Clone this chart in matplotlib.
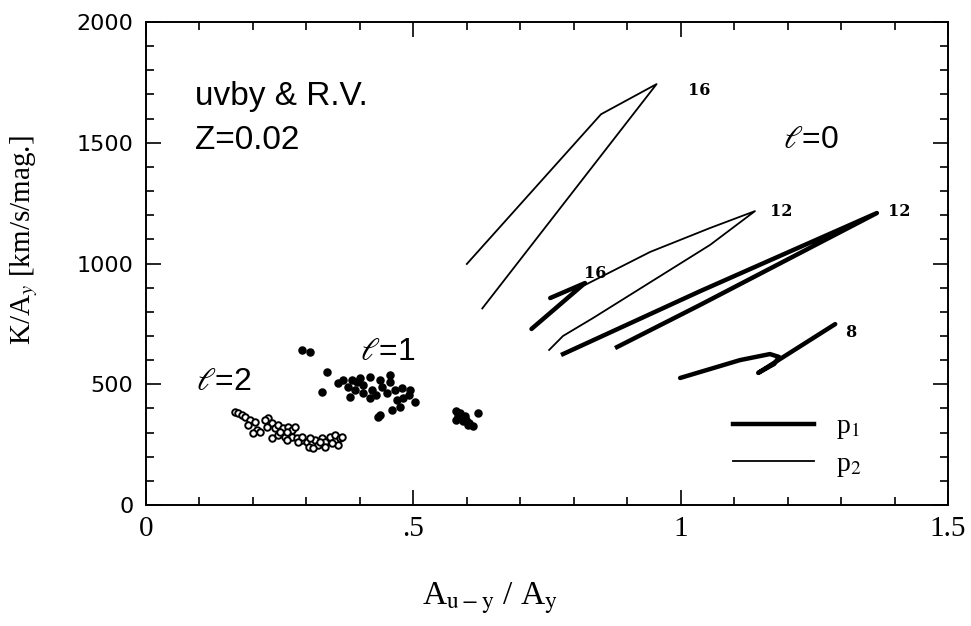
import matplotlib
matplotlib.use("Agg")
import matplotlib.pyplot as plt
from matplotlib.ticker import MultipleLocator, FixedLocator, FixedFormatter

plt.rcParams['mathtext.fontset'] = 'stix'

# ---- data ----
# l=2 open circles
l2_x = [0.166, 0.173, 0.179, 0.185, 0.195, 0.204, 0.191, 0.207, 0.201, 0.213,
        0.229, 0.235, 0.241, 0.247, 0.257, 0.266, 0.273, 0.279, 0.235, 0.247,
        0.260, 0.273, 0.282, 0.291, 0.301, 0.310, 0.316, 0.329, 0.335, 0.344,
        0.353, 0.363, 0.366, 0.360, 0.347, 0.322, 0.304, 0.313, 0.223, 0.226,
        0.251, 0.263, 0.291, 0.307, 0.263, 0.285, 0.335, 0.325]
l2_y = [386, 380, 373, 366, 352, 345, 331, 311, 297, 304,
        359, 338, 318, 331, 318, 324, 311, 324, 276, 290,
        283, 283, 276, 269, 262, 255, 269, 276, 262, 283,
        290, 276, 283, 248, 255, 248, 241, 235, 352, 324,
        304, 304, 283, 276, 269, 262, 241, 262]

# l=1 filled dots
l1_x = [0.291, 0.307, 0.338, 0.329, 0.360, 0.369, 0.378, 0.385, 0.394, 0.400,
        0.419, 0.438, 0.456, 0.456, 0.441, 0.422, 0.406, 0.382, 0.419, 0.431,
        0.450, 0.466, 0.478, 0.494, 0.503, 0.469, 0.460, 0.438, 0.434, 0.481,
        0.406, 0.391, 0.491, 0.475]
l1_y = [642, 635, 552, 469, 504, 518, 490, 518, 511, 525,
        531, 518, 538, 511, 490, 476, 462, 448, 442, 455,
        462, 476, 483, 476, 428, 435, 393, 373, 366, 442,
        497, 476, 455, 407]

# cluster near 0.6 (filled)
l0_x = [0.580, 0.587, 0.584, 0.590, 0.596, 0.599, 0.605, 0.612, 0.621, 0.593,
        0.580, 0.602]
l0_y = [388, 381, 367, 360, 367, 353, 340, 326, 381, 347, 353, 333]

# p2 (thin) model tracks
p2a_x = [0.600, 0.851, 0.955, 0.629]
p2a_y = [998, 1618, 1743, 814]
p2b_x = [0.754, 0.780, 0.836, 1.055, 1.139, 1.055, 0.943, 0.821]
p2b_y = [642, 700, 774, 1077, 1217, 1147, 1048, 911]

# p1 (thick) model tracks
p1a_x = [0.721, 0.821, 0.756]
p1a_y = [729, 919, 857]
p1b_x = [0.780, 1.036, 1.367, 1.036, 0.881]
p1b_y = [625, 885, 1209, 828, 654]
p1c_x = [0.999, 1.111, 1.167, 1.184, 1.175, 1.145, 1.289]
p1c_y = [526, 600, 625, 613, 584, 547, 749]

# mass labels
mass_text = ['16', '12', '12', '16', '8']
mass_x = [1.014, 1.167, 1.388, 0.820, 1.307]
mass_y = [1718, 1217, 1217, 960, 716]

xticks = [0, 0.5, 1, 1.5]
xtick_labels = ['0', '.5', '1', '1.5']
yticks = [0, 500, 1000, 1500, 2000]
ytick_labels = ['0', '500', '1000', '1500', '2000']

# ---- figure ----
fig = plt.figure(figsize=(9.71, 6.26), dpi=100)
ax = fig.add_axes([146/971, 1-505/626, 802/971, 483/626])

ax.plot(p2a_x, p2a_y, color='black', lw=1.3)
ln2, = ax.plot(p2b_x, p2b_y, color='black', lw=1.3, label=r'p$_2$')
ax.plot(p1a_x, p1a_y, color='black', lw=3.2, solid_capstyle='round')
ln1, = ax.plot(p1b_x, p1b_y, color='black', lw=3.2, label=r'p$_1$',
               solid_joinstyle='round')
ax.plot(p1c_x, p1c_y, color='black', lw=3.2, solid_capstyle='round',
        solid_joinstyle='round')

ax.scatter(l2_x, l2_y, s=22, facecolor='white', edgecolor='black', lw=1.4, zorder=3)
ax.scatter(l1_x, l1_y, s=26, color='black', zorder=3)
ax.scatter(l0_x, l0_y, s=26, color='black', zorder=3)

for t, x, y in zip(mass_text, mass_x, mass_y):
    ax.text(x, y, t, fontsize=11.5, fontweight='bold', family='DejaVu Serif',
            ha='left', va='center')

ax.set_xlim(0, 1.5)
ax.set_ylim(0, 2000)
ax.xaxis.set_major_locator(FixedLocator(xticks))
ax.xaxis.set_major_formatter(FixedFormatter(xtick_labels))
ax.yaxis.set_major_locator(FixedLocator(yticks))
ax.yaxis.set_major_formatter(FixedFormatter(ytick_labels))
ax.xaxis.set_minor_locator(MultipleLocator(0.1))
ax.yaxis.set_minor_locator(MultipleLocator(100))
ax.tick_params(which='both', direction='in', top=True, right=True, width=1.2)
ax.tick_params(which='major', length=11)
ax.tick_params(which='minor', length=6)
ax.tick_params(axis='x', which='major', pad=8)
ax.tick_params(axis='y', which='major', pad=9)
for lab in ax.get_xticklabels():
    lab.set_family('Liberation Serif')
    lab.set_fontsize(21)
for lab in ax.get_yticklabels():
    lab.set_family('DejaVu Sans')
    lab.set_fontsize(16)
for s in ax.spines.values():
    s.set_linewidth(1.4)

ax.set_xlabel(r'A$_{\mathrm{u-y}}$ / A$_\mathrm{y}$', fontsize=24,
              family='Liberation Serif')
ax.xaxis.set_label_coords((490-146)/802, (505-580)/483)
ax.set_ylabel(r'K/A$_y$ [km/s/mag.]', fontsize=21, family='Liberation Serif')
ax.yaxis.set_label_coords((40-146)/802, (505-240)/483)

ax.text(0.091, 1690, 'uvby & R.V.', fontsize=24, family='Liberation Sans',
        ha='left', va='center')
ax.text(0.091, 1510, 'Z=0.02', fontsize=24, family='Liberation Sans',
        ha='left', va='center')
ax.text(1.191, 1510, r'$\ell$=0', fontsize=23, family='Liberation Sans',
        ha='left', va='center')
ax.text(0.400, 634, r'$\ell$=1', fontsize=23, family='Liberation Sans',
        ha='left', va='center')
ax.text(0.093, 510, r'$\ell$=2', fontsize=23, family='Liberation Sans',
        ha='left', va='center')

leg = ax.legend(handles=[ln1, ln2], loc='upper left',
                bbox_to_anchor=((733-146)/802, (505-414)/483),
                frameon=False, borderpad=0, borderaxespad=0,
                handlelength=2.9, handletextpad=0.8, labelspacing=0.35,
                prop={'family': 'Liberation Serif', 'size': 20})

fig.savefig('out.png', dpi=100)
